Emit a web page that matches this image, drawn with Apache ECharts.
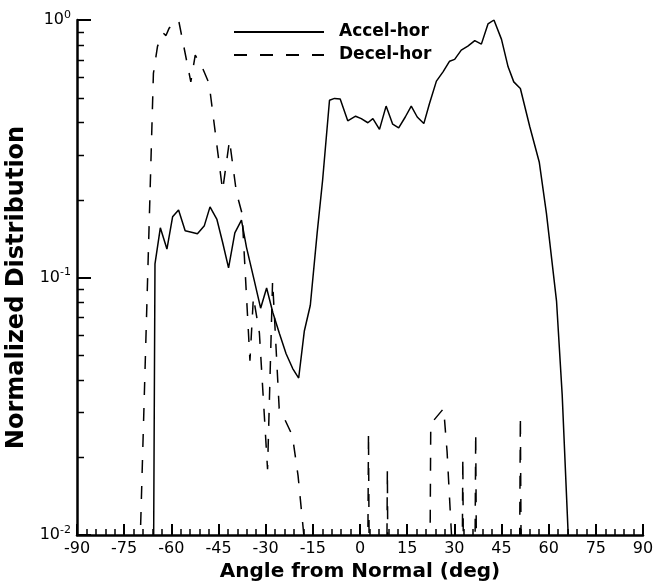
<!DOCTYPE html>
<html><head><meta charset="utf-8">
<script src="https://cdn.jsdelivr.net/npm/echarts@6/dist/echarts.min.js"></script>
<style>html,body{margin:0;padding:0;background:#fff}#c{width:655px;height:588px}</style>
</head><body><div id="c"></div>
<script>
// ---- data ----
const seriesNames = ['Accel-hor', 'Decel-hor'];
const xTickValues = [-90, -75, -60, -45, -30, -15, 0, 15, 30, 45, 60, 75, 90];
const yMinorMultipliers = [2, 3, 4, 5, 6, 7, 8, 9];
const yDecadeStarts = [0.01, 0.1];

const accelAngle = [-67.2, -65.2, -63.5, -61.4, -59.6, -57.7, -55.6, -53.6, -51.7, -49.5, -47.7, -45.5, -43.7, -41.8, -39.8, -37.7, -36.1, -33.6, -31.6, -29.7, -27.7, -25.6, -23.5, -21.4, -19.5, -17.7, -15.8, -13.6, -11.9, -9.7, -8.1, -6.3, -3.9, -1.4, 0.4, 2.5, 4.1, 6.2, 8.3, 10.4, 12.3, 14.4, 16.3, 18.2, 20.3, 22.1, 24.3, 26.4, 28.5, 30.1, 32.2, 34.3, 36.5, 38.6, 40.7, 42.6, 45.0, 47.1, 48.9, 51.0, 54.0, 57.0, 59.3, 62.5, 64.3, 66.2, 68.2];
const accelValue = [0, 0.113, 0.156, 0.129, 0.172, 0.183, 0.152, 0.150, 0.148, 0.159, 0.188, 0.168, 0.137, 0.109, 0.149, 0.167, 0.131, 0.097, 0.076, 0.091, 0.073, 0.0605, 0.0506, 0.0443, 0.0407, 0.062, 0.078, 0.150, 0.238, 0.488, 0.496, 0.493, 0.406, 0.423, 0.414, 0.399, 0.414, 0.376, 0.463, 0.394, 0.381, 0.420, 0.463, 0.420, 0.396, 0.474, 0.579, 0.629, 0.692, 0.703, 0.764, 0.792, 0.831, 0.806, 0.965, 1.0, 0.841, 0.658, 0.575, 0.542, 0.385, 0.281, 0.177, 0.081, 0.035, 0.0101, 0];

const decelAngle = [-71.9, -69.9, -65.7, -64.4, -62.6, -61.7, -60.7, -57.7, -53.8, -52.4, -50.3, -48.0, -43.7, -41.5, -39.3, -37.5, -35.0, -33.9, -32.0, -29.4, -27.8, -25.7, -25.0, -21.5, -19.7, -17.5, -15.5, 0.7, 2.7, 4.7, 6.7, 8.7, 10.7, 20.5, 22.5, 24.1, 26.6, 27.7, 29.3, 30.7, 32.7, 34.7, 36.8, 38.8, 49.0, 51.0, 53.0];
const decelValue = [0, 0.0095, 0.62, 0.79, 0.89, 0.87, 0.93, 1.0, 0.575, 0.73, 0.66, 0.567, 0.218, 0.341, 0.214, 0.177, 0.0475, 0.084, 0.061, 0.018, 0.097, 0.031, 0.030, 0.0243, 0.017, 0.009, 0, 0, 0.025, 0, 0, 0.018, 0, 0, 0.027, 0.0285, 0.031, 0.021, 0.009, 0, 0.020, 0, 0.025, 0, 0, 0.029, 0];

// zero values cannot sit on a log axis: they are drawn far below the floor and clipped
const FLOOR = 1e-6;
const toPairs = (xs, ys) => xs.map((x, i) => [x, ys[i] === 0 ? FLOOR : ys[i]]);

const FONT = 'DejaVu Sans';
const chart = echarts.init(document.getElementById('c'), null, {renderer: 'canvas'});
const option = {
  animation: false,
  backgroundColor: '#fff',
  grid: {left: 77, right: 12, top: 20, bottom: 53, containLabel: false, outerBoundsMode: 'none'},
  legend: {
    orient: 'vertical', left: 233, top: 23, padding: 0,
    itemWidth: 90, itemHeight: 14, itemGap: 5,
    data: seriesNames,
    itemStyle: {opacity: 0},
    textStyle: {fontFamily: FONT, fontWeight: 'bold', fontSize: 17, color: '#000', lineHeight: 18, padding: [0, 0, 0, 10]}
  },
  xAxis: {
    type: 'value', min: -90, max: 90, interval: 15,
    name: 'Angle from Normal (deg)', nameLocation: 'middle', nameGap: 27,
    nameTextStyle: {fontFamily: FONT, fontWeight: 'bold', fontSize: 20, color: '#000'},
    axisLine: {show: true, onZero: false, lineStyle: {color: '#000', width: 2.5}},
    axisTick: {show: true, inside: true, length: 11, lineStyle: {color: '#000', width: 2}},
    minorTick: {show: true, splitNumber: 5, length: 6, lineStyle: {color: '#000', width: 1.5}},
    axisLabel: {fontFamily: FONT, fontSize: 16, color: '#000', margin: 6,
      formatter: v => xTickValues.includes(v) ? String(v) : ''},
    splitLine: {show: false}
  },
  yAxis: {
    type: 'log', logBase: 10, min: 0.01, max: 1,
    name: 'Normalized Distribution', nameLocation: 'middle', nameGap: 47, nameRotate: 90,
    nameTextStyle: {fontFamily: FONT, fontWeight: 'bold', fontSize: 24, color: '#000', padding: [0, 20, 0, 0]},
    axisLine: {show: true, onZero: false, lineStyle: {color: '#000', width: 2.5}},
    axisTick: {show: true, inside: true, length: 14, lineStyle: {color: '#000', width: 2}},
    axisLabel: {
      margin: 6,
      formatter: v => '{b|10}{s|' + Math.round(Math.log10(v)) + '}',
      rich: {
        b: {fontFamily: FONT, fontSize: 16, color: '#000'},
        s: {fontFamily: FONT, fontSize: 11, color: '#000', padding: [0, 0, 10, 0]}
      }
    },
    splitLine: {show: false}
  },
  series: [
    {name: seriesNames[0], type: 'line', symbol: 'none', showSymbol: false, clip: true,
     lineStyle: {color: '#000', width: 1.5, type: 'solid'}, itemStyle: {color: '#000'},
     data: toPairs(accelAngle, accelValue)},
    {name: seriesNames[1], type: 'line', symbol: 'none', showSymbol: false, clip: true,
     lineStyle: {color: '#000', width: 1.5, type: [13, 13]}, itemStyle: {color: '#000'},
     data: toPairs(decelAngle, decelValue)}
  ]
};
chart.setOption(option);

// log-axis minor ticks (2..9 x 10^k), placed through the axis scales
const x0 = chart.convertToPixel({xAxisIndex: 0}, -90);
const minor = [];
yDecadeStarts.forEach(d => yMinorMultipliers.forEach(m => {
  const y = Math.round(chart.convertToPixel({yAxisIndex: 0}, d * m)) + 0.5;
  minor.push({type: 'line', shape: {x1: x0, y1: y, x2: x0 + 7, y2: y},
    style: {stroke: '#000', lineWidth: 1.5}, silent: true});
}));
chart.setOption({graphic: minor});
</script>
</body></html>
